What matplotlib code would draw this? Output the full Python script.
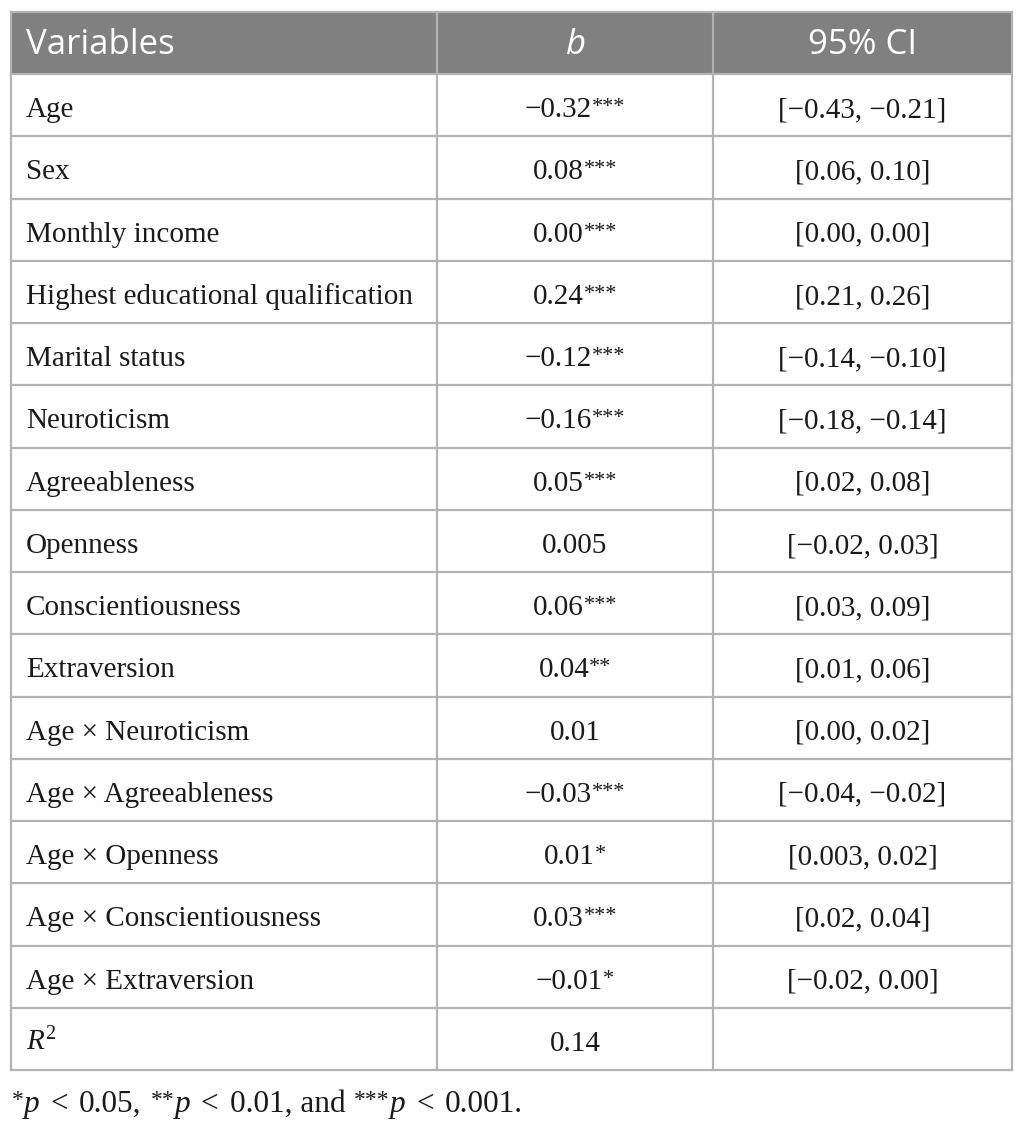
import matplotlib
matplotlib.use("Agg")
import matplotlib.pyplot as plt
from matplotlib.patches import Rectangle

plt.rcParams["mathtext.fontset"] = "custom"
plt.rcParams["mathtext.rm"] = "Liberation Serif"
plt.rcParams["mathtext.it"] = "Liberation Serif:italic"
plt.rcParams["mathtext.bf"] = "Liberation Serif:bold"

# table content
headers = ["Variables", "b", "95% CI"]
variables = ["Age", "Sex", "Monthly income", "Highest educational qualification",
             "Marital status", "Neuroticism", "Agreeableness", "Openness",
             "Conscientiousness", "Extraversion", "Age \u00d7 Neuroticism",
             "Age \u00d7 Agreeableness", "Age \u00d7 Openness",
             "Age \u00d7 Conscientiousness", "Age \u00d7 Extraversion", "$R^2$"]
b_values = ["\u22120.32", "0.08", "0.00", "0.24", "\u22120.12", "\u22120.16",
            "0.05", "0.005", "0.06", "0.04", "0.01", "\u22120.03", "0.01",
            "0.03", "\u22120.01", "0.14"]
b_stars = ["***", "***", "***", "***", "***", "***", "***", "", "***", "**",
           "", "***", "*", "***", "*", ""]
ci_values = ["[\u22120.43, \u22120.21]", "[0.06, 0.10]", "[0.00, 0.00]",
             "[0.21, 0.26]", "[\u22120.14, \u22120.10]", "[\u22120.18, \u22120.14]",
             "[0.02, 0.08]", "[\u22120.02, 0.03]", "[0.03, 0.09]", "[0.01, 0.06]",
             "[0.00, 0.02]", "[\u22120.04, \u22120.02]", "[0.003, 0.02]",
             "[0.02, 0.04]", "[\u22120.02, 0.00]", ""]
footnote_stars = ["*", "**", "***"]
footnote_levels = ["0.05", "0.01", "0.001"]
footnote_joins = [",", ", and", "."]

W, H = 1024, 1129
fig = plt.figure(figsize=(W / 100, H / 100), dpi=100)
ax = fig.add_axes([0, 0, 1, 1])
ax.set_xlim(0, W)
ax.set_ylim(H, 0)
ax.axis("off")
renderer = fig.canvas.get_renderer()

col_x = [11, 437, 713, 1012]
top, bottom = 12, 1070
n_rows = len(variables) + 1
row_h = (bottom - top) / n_rows
line_col = "#b3b3b3"
ink = "#1a1a1a"
serif = "Liberation Serif"
sans = "Open Sans"
body_size = 21
sup_size = 16
sup_rise = 5


def draw_runs(x, y, runs, align="left", size=body_size, ssize=sup_size,
              rise=sup_rise):
    # place text pieces one after another; stars as small raised text
    texts = []
    widths = []
    for s, kind in runs:
        if kind == "gap":
            texts.append(None)
            widths.append(s)
            continue
        if kind == "sup":
            t = ax.text(0, y - rise, s, fontsize=ssize, family=serif,
                        color=ink, va="baseline", ha="left")
        elif kind == "it":
            t = ax.text(0, y, s, fontsize=size, family=serif,
                        style="italic", color=ink, va="baseline", ha="left")
        else:
            t = ax.text(0, y, s, fontsize=size, family=serif,
                        color=ink, va="baseline", ha="left")
        texts.append(t)
        widths.append(t.get_window_extent(renderer).width)
    total = sum(widths)
    cx = x - total / 2 if align == "center" else x
    for t, w in zip(texts, widths):
        if t is not None:
            t.set_x(cx)
        cx += w


# header background
ax.add_patch(Rectangle((col_x[0], top), col_x[3] - col_x[0], row_h,
                       facecolor="#808080", edgecolor="none", zorder=0))

hy = top + 42
ax.text(26, hy, headers[0], ha="left", va="baseline", color="white",
        fontsize=25, family=sans)
ax.text((col_x[1] + col_x[2]) / 2, hy, headers[1], ha="center", va="baseline",
        color="white", fontsize=25, family=sans, style="italic")
ax.text((col_x[2] + col_x[3]) / 2, hy, headers[2], ha="center", va="baseline",
        color="white", fontsize=25, family=sans)

for i, var in enumerate(variables):
    by = top + row_h * (i + 1) + 43
    ax.text(26, by, var, ha="left", va="baseline", fontsize=body_size,
            family=serif, color=ink)
    runs = [(b_values[i], "rm")]
    if b_stars[i]:
        runs.append((b_stars[i], "sup"))
    draw_runs((col_x[1] + col_x[2]) / 2, by, runs, align="center")
    ax.text((col_x[2] + col_x[3]) / 2, by, ci_values[i], ha="center",
            va="baseline", fontsize=body_size, family=serif, color=ink)

# grid lines
for k in range(n_rows + 1):
    y = top + row_h * k
    ax.plot([col_x[0], col_x[3]], [y, y], color=line_col, lw=1.6, zorder=2,
            solid_capstyle="projecting")
for x in col_x:
    ax.plot([x, x], [top, bottom], color=line_col, lw=1.6, zorder=2,
            solid_capstyle="projecting")

# footnote
foot = []
for stars, level, join in zip(footnote_stars, footnote_levels, footnote_joins):
    foot += [(stars, "sup"), ("p", "it"), (11, "gap"), ("<", "rm"),
             (11, "gap"), (level + join, "rm"), (9, "gap")]
draw_runs(12, 1112, foot, size=22.5, ssize=17, rise=5.5)

fig.savefig("out.png", dpi=100)
